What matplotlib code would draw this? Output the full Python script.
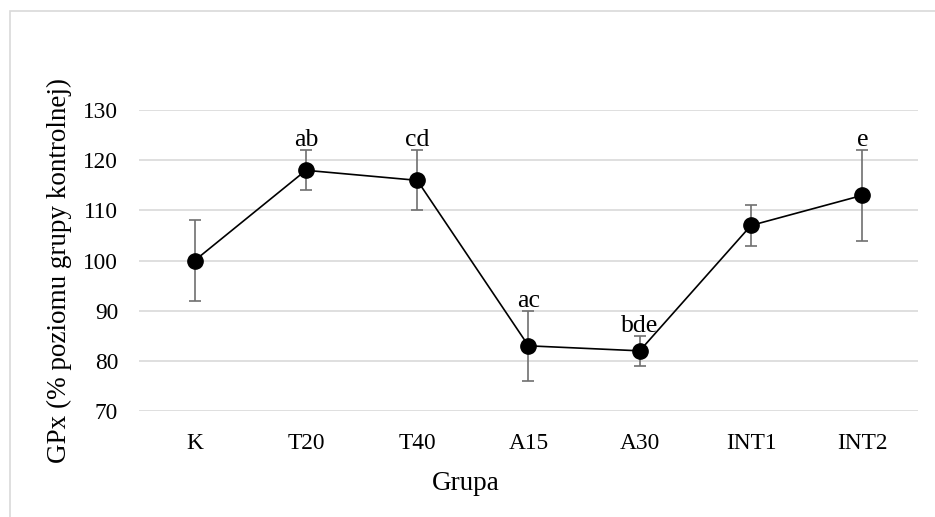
import matplotlib.pyplot as plt
from matplotlib.patches import Rectangle

groups = ['K', 'T20', 'T40', 'A15', 'A30', 'INT1', 'INT2']
gpx = [100, 118, 116, 83, 82, 107, 113]
err_low = [8, 4, 6, 7, 3, 4, 9]
err_high = [8, 4, 6, 7, 3, 4, 9]
letters = ['', 'ab', 'cd', 'ac', 'bde', '', 'e']
yticks = [70, 80, 90, 100, 110, 120, 130]

plt.rcParams['font.family'] = ['Liberation Serif', 'DejaVu Serif']
fs_tick = 16.8
fs_title = 19.5
fs_letter = 18.5

fig = plt.figure(figsize=(9.35, 5.17), dpi=100)
ax = fig.add_axes([0.1487, 0.205, 0.833, 0.582])

# light frame around the chart
fig.patches.append(Rectangle((10 / 935, -0.1), 1.2, 1 - 11 / 517 + 0.1,
                             transform=fig.transFigure, fill=False,
                             edgecolor='#d9d9d9', linewidth=1.2))

x = list(range(len(groups)))
ax.errorbar(x, gpx, yerr=[err_low, err_high], fmt='none', ecolor='#707070',
            elinewidth=1.2, capsize=4.3, capthick=1.2, zorder=2)
ax.plot(x, gpx, color='black', linewidth=1.2, marker='o', markersize=11, zorder=3)

for xi, v, e, lab in zip(x, gpx, err_high, letters):
    if lab:
        ax.annotate(lab, (xi, v + e), xytext=(0, 3), textcoords='offset points',
                    ha='center', va='baseline', fontsize=fs_letter)

ax.set_xlim(-0.5, len(groups) - 0.5)
ax.set_ylim(70, 130)
ax.set_yticks(yticks)
ax.set_xticks(x)
ax.set_xticklabels(groups)
ax.yaxis.grid(True, color='#d9d9d9', linewidth=1.2)
ax.set_axisbelow(True)
for s in ax.spines.values():
    s.set_visible(False)
ax.tick_params(length=0, labelsize=fs_tick)
ax.tick_params(axis='y', pad=15)
ax.tick_params(axis='x', pad=16)

ax.set_xlabel('Grupa', fontsize=fs_title)
ax.set_ylabel('GPx (% poziomu grupy kontrolnej)', fontsize=fs_title)
ax.xaxis.set_label_coords(0.42, -0.20)
ax.yaxis.set_label_coords(-0.0865, 0.468)

fig.savefig('out.png', dpi=100)
